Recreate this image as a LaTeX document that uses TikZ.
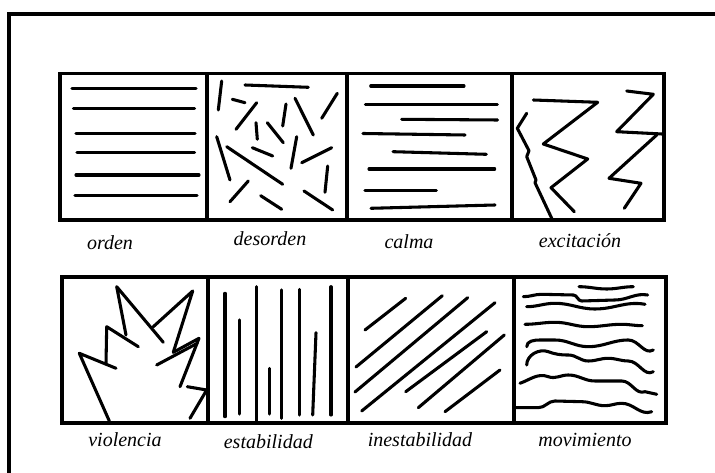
\documentclass[tikz,border=0pt]{standalone}
\usepackage{fontspec}
\setmainfont{Liberation Serif}

\begin{document}
\begin{tikzpicture}[x=0.75pt,y=0.75pt,yscale=-1,xscale=1,
  stroke/.style={line width=2.3pt,line cap=round,line join=round},
  panel/.style={line width=2.8pt},
  frame/.style={line width=2.6pt},
  lbl/.style={anchor=base,inner sep=0pt,font=\fontsize{15}{18}\selectfont\itshape}]
\useasboundingbox (0,0) rectangle (715,473);

%Outer frame
\draw [frame] (9,473) -- (9,14) -- (715,14);

%Shape: Panels top row
\draw [panel] (60,73.5) rectangle (664,220);
\draw [panel] (207,73.5) -- (207,220);
\draw [panel] (347,73.5) -- (347,222);
\draw [panel] (512,73.5) -- (512,220);
%Shape: Panels bottom row
\draw [panel] (62,277) rectangle (666,423);
\draw [panel] (208,277) -- (208,423);
\draw [panel] (348,277) -- (348,425);
\draw [panel] (514,277) -- (514,423);

%orden
\foreach \ya/\xa/\xb in {88.3/72/196, 108.3/73.5/194.5, 133.3/76/195, 152.3/77/194.5, 175/76/199, 195.3/75/197}
  \draw [stroke] (\xa,\ya) -- (\xb,\ya);

%desorden
\foreach \xa/\ya/\xb/\yb in {221.7/81/218.3/110, 245/85/308.3/87.3, 232.3/99.3/245/102.7,
    256.7/102.7/236/129.3, 286/104/282.7/126, 295/98.3/313.3/135, 337.3/93.3/321.7/118.3,
    256/122.7/257.3/139.3, 267.3/122.7/283.3/142.7, 216.7/136.7/230/180,
    226.7/146.7/282.7/184.3, 252.3/147.7/272.7/156, 296.7/136.7/291/168.3,
    331.7/147.7/301.7/162.7, 327.7/166/325/192.3, 248.3/181/230/201.7,
    260.7/195.7/281.7/209.3, 304/191/332.7/210}
  \draw [stroke] (\xa,\ya) -- (\xb,\yb);

%calma
\foreach \xa/\ya/\xb/\yb in {370.7/86/464/86, 365.3/104.3/497.3/104.3, 401.7/119.3/497.7/120,
    363/133.5/465/135, 393/151.7/486.3/154.3, 369/169/494.7/169, 365/190.7/436.3/190.7,
    371/208.3/495/205}
  \draw [stroke] (\xa,\ya) -- (\xb,\yb);

%excitacion
\draw [stroke] (526.7,113.3) -- (517.3,128.3) -- (529,150.7) -- (526.7,156.7)
  -- (536,180) -- (535,182.7) -- (551.7,218.3);
\draw [stroke] (533.3,100) -- (597.7,102.3) -- (543.3,144) -- (587.7,159)
  -- (551,187.7) -- (574.3,211.7);
\draw [stroke] (626.7,91) -- (653.3,94.3) -- (616.7,131.7) -- (662,134);
\draw [stroke] (656.7,135) -- (609,178.3) -- (641,183.3) -- (624.3,208.3);

%violencia
\draw [stroke] (109.3,421) -- (79.3,353.3) -- (116,368.3);
\draw [stroke] (106,363.3) -- (106.7,326.7) -- (138.3,346.7);
\draw [stroke] (126,335) -- (116.7,286.7) -- (163.3,342.3);
\draw [stroke] (153.3,326.7) -- (192.7,291) -- (173.3,352.3);
\draw [stroke] (156.7,365) -- (197.3,343.3);
\draw [stroke] (173.3,352.3) -- (199,338.3) -- (180,386.7);
\draw [stroke] (187.3,386.7) -- (206.7,390) -- (190,418.3);

%estabilidad
\foreach \xa/\ya/\xb/\yb in {225/293.3/225/416.7, 239.3/320/239.3/414, 256.7/286.7/256.7/421.7,
    269.3/368.3/269.3/414, 281.7/290/281.7/418.3, 299.3/289.3/299.3/415,
    316/332.7/312.7/415, 331/286.7/331/415}
  \draw [stroke] (\xa,\ya) -- (\xb,\yb);

%inestabilidad
\foreach \xa/\ya/\xb/\yb in {365/330/405.7/298.3, 356/367/442.3/295.7, 355/392/467.7/297.7,
    361.7/411/495/302.7, 405.7/391.7/486.7/331.7, 418.3/407.7/504.3/335, 445/411.7/500/370}
  \draw [stroke] (\xa,\ya) -- (\xb,\yb);

%movimiento
\draw [stroke] (579,286.7) to[out=0,in=180] (606.7,289) to[out=0,in=180] (633.3,286.7);
\draw [stroke] (523.3,296.7) to[out=0,in=180] (541.7,294.3) -- (573.3,295)
  to[out=0,in=180] (581.7,301) -- (615,300) to[out=0,in=190] (647.7,295);
\draw [stroke] (526.7,306.7) to[out=0,in=180] (555,303.3) to[out=0,in=180] (595,309)
  to[out=0,in=190] (645,304.3);
\draw [stroke] (525,324.3) to[out=0,in=180] (555,322.3) to[out=0,in=180] (588.3,326.7)
  to[out=0,in=180] (621.7,324.3) to[out=0,in=180] (642.3,325.7);
\draw [stroke] (526.7,346.7) to[out=-90,in=180] (540,340) to[out=0,in=180] (555,340)
  to[out=0,in=180] (588.3,346.7) to[out=0,in=180] (628.3,340) to[out=0,in=150] (653.3,350);
\draw [stroke] (526.7,365) to[out=-90,in=200] (548.3,351.7) to[out=20,in=180] (568.3,355)
  to[out=0,in=180] (588.3,361) to[out=0,in=180] (608.3,358.3) to[out=0,in=180] (628.3,361)
  to[out=0,in=150] (653.3,371.7);
\draw [stroke] (520,383.3) to[out=-20,in=200] (548.3,376.7) to[out=20,in=180] (568.3,375)
  to[out=0,in=180] (595,381) -- (621.7,381) to[out=0,in=160] (645,391.7) -- (656.7,394.3);
\draw [stroke] (515,407.7) -- (538.3,407.7) to[out=0,in=180] (555,401) -- (581.7,401.7)
  to[out=0,in=180] (605,405.7) to[out=0,in=180] (621.7,403.3) to[out=0,in=160] (651.7,411.7);

% Text Node
\node [lbl] (orden) at (110,250) {orden};
\node [lbl] (desorden) at (270,246) {desorden};
\node [lbl] (calma) at (409,249) {calma};
\node [lbl] (excitacion) at (580,248) {excitación};
\node [lbl] (violencia) at (125,446.7) {violencia};
\node [lbl] (estabilidad) at (268.3,448.3) {estabilidad};
\node [lbl] (inestabilidad) at (420,446.7) {inestabilidad};
\node [lbl] (movimiento) at (585,446.7) {movimiento};

\end{tikzpicture}
\end{document}
